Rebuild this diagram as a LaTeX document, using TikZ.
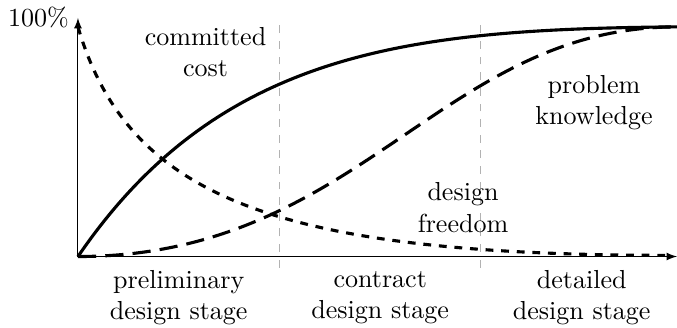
\documentclass[tikz,border=0pt]{standalone}
\usepackage{tikz}

\begin{document}
\begin{tikzpicture}[x=2.72cm, y=3.1cm, >=latex, textnode/.style={align=center}, curve/.style={very thick}, stageline/.style={gray!60, dashed}]
\useasboundingbox (-0.387,-0.309) rectangle (2.973,1.117);
\coordinate (O) at (0,0);
\coordinate (xend) at (2.973,0);
\coordinate (yend) at (0,1.039);
\coordinate (full) at (2.973,1);
\coordinate (start) at (0,1);
\coordinate (low) at (2.95,0.005);
\coordinate (s1bot) at (1,-0.048);
\coordinate (s1top) at (1,1.017);
\coordinate (s2bot) at (2,-0.048);
\coordinate (s2top) at (2,1.017);
\draw[stageline] (s1bot) -- (s1top);
\draw[stageline] (s2bot) -- (s2top);
\draw[->] (O) -- (xend);
\draw[->] (O) -- (yend);
\node[left] (top) at (yend) {100\%};
%committed cost
\draw[curve] (O) .. controls (0.7,0.9) and (1.65,0.99) .. (full);
%problem knowledge
\draw[curve, dash pattern=on 7pt off 3.5pt] (O) .. controls (1.4,0) and (1.8,1) .. (full);
%design freedom
\draw[curve, dashed] (start) .. controls (0.25,0.25) and (1.0,0.005) .. (low);
\node[textnode] (cost) at (0.633,0.891) {committed\\cost};
\node[textnode] (knowledge) at (2.561,0.670) {problem\\knowledge};
\node[textnode] (freedom) at (1.911,0.213) {design\\freedom};
\node[textnode] (prelim) at (0.5,-0.178) {preliminary\\design stage};
\node[textnode] (contract) at (1.5,-0.178) {contract\\design stage};
\node[textnode] (detailed) at (2.5,-0.178) {detailed\\design stage};
\end{tikzpicture}
\end{document}
